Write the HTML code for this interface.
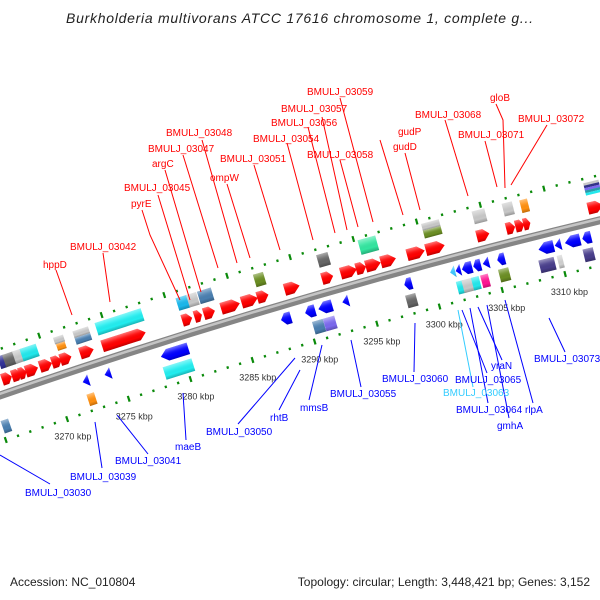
<!DOCTYPE html>
<html><head><meta charset="utf-8"><style>
html,body{margin:0;padding:0;background:#fff}
svg{display:block}
text{font-family:"Liberation Sans",sans-serif}
</style></head><body>
<svg id="chart" width="600" height="600" viewBox="0 0 600 600" xmlns="http://www.w3.org/2000/svg">
<defs>
<linearGradient id="shade" x1="0" y1="0" x2="0" y2="1">
<stop offset="0" stop-color="#fff" stop-opacity="0.45"/>
<stop offset="0.35" stop-color="#fff" stop-opacity="0.1"/>
<stop offset="0.7" stop-color="#000" stop-opacity="0"/>
<stop offset="1" stop-color="#000" stop-opacity="0.25"/>
</linearGradient>
</defs>
<rect width="600" height="600" fill="#fff"/>
<text x="66" y="23" font-size="14" font-style="italic" fill="#222" textLength="467">Burkholderia multivorans ATCC 17616 chromosome 1, complete g...</text>
<g id="backbone-layer"></g>
<g id="tick-layer"></g>
<g id="feature-layer"></g>
<g id="label-lines" stroke-width="1" fill="none">
<g stroke="#f00">
<polyline points="142,210 150,235 180,300"/>
<polyline points="158,195 190,300"/>
<polyline points="165,170 201,292"/>
<polyline points="183,155 218,268"/>
<polyline points="202,140 237,263"/>
<polyline points="227,184 250,258"/>
<polyline points="254,165 280,250"/>
<polyline points="287,143 313,240"/>
<polyline points="308,127 335,233"/>
<polyline points="322,117 347,230"/>
<polyline points="340,98 373,222"/>
<polyline points="340,160 358,227"/>
<polyline points="380,140 403,215"/>
<polyline points="405,153 420,210"/>
<polyline points="445,120 468,196"/>
<polyline points="496,104 503,120 505,188"/>
<polyline points="485,141 497,187"/>
<polyline points="547,125 511,185"/>
<polyline points="103,253 110,302"/>
<polyline points="56,270 72,315"/>
</g>
<g stroke="#00f">
<polyline points="0,455 50,484"/>
<polyline points="95,422 102,468"/>
<polyline points="117,415 148,454"/>
<polyline points="183,393 186,440"/>
<polyline points="295,358 238,424"/>
<polyline points="300,370 279,410"/>
<polyline points="322,345 309,400"/>
<polyline points="351,340 361,387"/>
<polyline points="415,323 414,372"/>
<polyline points="462,310 487,373"/>
<polyline points="478,307 502,360"/>
<polyline points="470,308 488,403"/>
<polyline points="487,305 509,418"/>
<polyline points="505,300 533,403"/>
<polyline points="549,318 565,352"/>
</g>
<polyline stroke="#33ccff" points="458,310 473,387"/>
</g>
<g font-size="10" fill="#f00">
<text x="307" y="95">BMULJ_03059</text>
<text x="281" y="112">BMULJ_03057</text>
<text x="490" y="101">gloB</text>
<text x="415" y="118">BMULJ_03068</text>
<text x="271" y="126">BMULJ_03056</text>
<text x="518" y="122">BMULJ_03072</text>
<text x="458" y="138">BMULJ_03071</text>
<text x="166" y="136">BMULJ_03048</text>
<text x="253" y="142">BMULJ_03054</text>
<text x="398" y="135">gudP</text>
<text x="148" y="152">BMULJ_03047</text>
<text x="393" y="150">gudD</text>
<text x="307" y="158">BMULJ_03058</text>
<text x="220" y="162">BMULJ_03051</text>
<text x="152" y="167">argC</text>
<text x="210" y="181">ompW</text>
<text x="124" y="191">BMULJ_03045</text>
<text x="131" y="207">pyrE</text>
<text x="70" y="250">BMULJ_03042</text>
<text x="43" y="268">hppD</text>
</g>
<g font-size="10" fill="#00f">
<text x="25" y="496">BMULJ_03030</text>
<text x="70" y="480">BMULJ_03039</text>
<text x="115" y="464">BMULJ_03041</text>
<text x="175" y="450">maeB</text>
<text x="206" y="435">BMULJ_03050</text>
<text x="270" y="421">rhtB</text>
<text x="300" y="411">mmsB</text>
<text x="330" y="397">BMULJ_03055</text>
<text x="382" y="382">BMULJ_03060</text>
<text x="455" y="383">BMULJ_03065</text>
<text x="491" y="369">yraN</text>
<text x="456" y="413">BMULJ_03064</text>
<text x="497" y="429">gmhA</text>
<text x="525" y="413">rlpA</text>
<text x="534" y="362">BMULJ_03073</text>
</g>
<text x="443" y="396" font-size="10" fill="#33ccff">BMULJ_03063</text>
<text x="10" y="586" font-size="12" fill="#222">Accession: NC_010804</text>
<text x="590" y="586" font-size="12" fill="#222" text-anchor="end">Topology: circular; Length: 3,448,421 bp; Genes: 3,152</text>
</svg>
<script>
// axis data
const tickKbp = [3264,3265,3266,3267,3268,3269,3270,3271,3272,3273,3274,3275,3276,3277,3278,3279,3280,3281,3282,3283,3284,3285,3286,3287,3288,3289,3290,3291,3292,3293,3294,3295,3296,3297,3298,3299,3300,3301,3302,3303,3304,3305,3306,3307,3308,3309,3310,3311,3312,3313,3314,3315,3316];
const labelKbp = [3270,3275,3280,3285,3290,3295,3300,3305,3310];
const labelText = ["3270 kbp","3275 kbp","3280 kbp","3285 kbp","3290 kbp","3295 kbp","3300 kbp","3305 kbp","3310 kbp"];
// feature data: center (kbp), length (kbp), lane offset, strand
const featCenter = [3266.63,3267.43,3267.9,3268.64,3269.77,3270.65,3271.38,3273.07,3276.05,3281.12,3282.0,3282.89,3284.58,3286.11,3287.16,3289.49,3292.31,3294.0,3294.97,3295.94,3297.14,3299.32,3300.85,3304.63,3306.81,3307.53,3308.09,3313.49,
3266.7,3267.3,3268.0,3268.9,3271.34,3271.35,3273.12,3273.12,3276.14,3281.19,3281.98,3283.0,3287.3,3292.39,3295.98,3300.97,3300.97,3304.73,3306.99,3308.26,3313.59,3313.59,3313.59,3313.59,3313.59,
3272.28,3274.05,3279.44,3288.38,3290.31,3291.52,3293.13,3298.12,3301.66,3302.1,3302.8,3303.6,3304.3,3305.5,3309.07,3310.0,3311.16,3312.28,
3265.4,3272.3,3279.38,3290.65,3291.54,3298.06,3302.0,3302.64,3303.2,3303.93,3305.47,3308.85,3309.9,3312.15];
const featLength = [0.8,0.8,0.6,1.0,1.0,0.8,0.9,1.1,3.5,0.8,0.6,0.9,1.5,1.3,0.9,1.2,0.9,1.3,0.8,1.2,1.2,1.4,1.5,1.0,0.7,0.7,0.55,1.2,
0.5,0.9,0.7,1.3,0.8,0.7,1.25,1.25,3.7,0.9,0.8,1.1,0.8,0.9,1.4,1.4,1.4,1.0,0.8,0.6,1.2,1.2,1.2,1.2,1.2,
0.5,0.5,2.2,0.8,0.8,1.1,0.5,0.6,0.4,0.4,0.8,0.6,0.5,0.6,1.2,0.5,1.2,0.7,
0.6,0.6,2.3,0.85,0.9,0.8,0.6,1.0,0.6,0.6,0.8,1.2,0.4,0.8];
const featLane = [14,14,14,14,14,14,14,14,14,14,14,14,14,14,14,14,14,14,14,14,14,14,14,14,14,14,14,14,
31,31,31,31,34,27,34,27,32,31,31,31,31,32,34,37,29.5,33,33,32,38.5,36,33.5,31,28.5,
-14,-14,-14,-14,-14,-14,-14,-14,-14,-14,-14,-14,-14,-14,-14,-14,-14,-14,
-31,-33,-31,-31,-31,-31,-31,-31,-31,-31,-30,-31,-31,-31];
const featStrand = [1,1,1,1,1,1,1,1,1,1,1,1,1,1,1,1,1,1,1,1,1,1,1,1,1,1,1,1,
0,0,0,0,0,0,0,0,0,0,0,0,0,0,0,0,0,0,0,0,0,0,0,0,0,
-1,-1,-1,-1,-1,-1,-1,-1,-1,-1,-1,-1,-1,-1,-1,-1,-1,-1,
0,0,0,0,0,0,0,0,0,0,0,0,0,0];
const featColor = ["#f00","#f00","#f00","#f00","#f00","#f00","#f00","#f00","#f00","#f00","#f00","#f00","#f00","#f00","#f00","#f00","#f00","#f00","#f00","#f00","#f00","#f00","#f00","#f00","#f00","#f00","#f00","#f00",
"#333399","#666666","#c8c8c8","#22e8ec","#c8c8c8","#ff9010","#c8c8c8","#4a7fb0","#22eef0","#1ab8ec","#c8c8c8","#4a7fb0","#6b8e23","#666666","#33e6a0","#c8c8c8","#6b8e23","#c8c8c8","#c8c8c8","#ff9010","#c8c8c8","#333388","#7b68ee","#2a9aa8","#22e8ec",
"#00f","#00f","#00f","#00f","#00f","#00f","#00f","#00f","#40c8ff","#00f","#00f","#00f","#00f","#00f","#00f","#00f","#00f","#00f",
"#4a7fb0","#ff9010","#22eef0","#4a7fb0","#7b68ee","#666666","#22e8ec","#c8c8c8","#22e8ec","#ff1493","#6b8e23","#483d8b","#d0d0d0","#483d8b"];
const featHeight = [12,12,12,12,12,12,12,12,12,12,12,12,12,12,12,12,12,12,12,12,12,12,12,12,12,12,12,12,
13,13,13,13,7,7,7,7,13,13,13,13,13,13,15,7,8,13,13,13,2.6,2.6,2.6,2.6,2.6,
12,12,12,12,12,12,12,12,12,12,12,12,12,12,12,12,12,12,
13,12,13,13,13,13,13,13,13,13,13,13,13,13];

const NS = "http://www.w3.org/2000/svg";
const CX = 2120, CY = 6540, R = 6500, T0 = -1.8743, DT = 0.002009;
function tAt(k){ return T0 + (k - 3280) * DT; }
function pos(k, off){ const t = tAt(k), r = R + off; return [CX + r*Math.cos(t), CY + r*Math.sin(t), (t + Math.PI/2) * 180 / Math.PI]; }
function pxLen(kb){ return kb * DT * R; }
function mk(tag, attrs, parent){ const e = document.createElementNS(NS, tag); for (const a in attrs) e.setAttribute(a, attrs[a]); parent.appendChild(e); return e; }

// backbone
const bb = document.getElementById('backbone-layer');
const ta = tAt(3262), tb = tAt(3318);
function arcPath(off){ const r = R + off; return "M" + (CX + r*Math.cos(ta)) + "," + (CY + r*Math.sin(ta)) + " A" + r + "," + r + " 0 0 1 " + (CX + r*Math.cos(tb)) + "," + (CY + r*Math.sin(tb)); }
const bbMain = mk('path', {d: arcPath(0), stroke: "#858585", "stroke-width": 8, fill: "none"}, bb);


const bbHi = mk('path', {d: arcPath(1.5), stroke: "#c4c4c4", "stroke-width": 2.5, fill: "none"}, bb);



// ticks
const tl = document.getElementById('tick-layer');
[44, -44].forEach(function(off){
  tickKbp.forEach(function(k){
    const major = (k % 5 === 0);
    const len = major ? 6 : 2.5;
    const t = tAt(k), c = Math.cos(t), s = Math.sin(t);
    const r1 = R + off - len/2, r2 = R + off + len/2;
    const ln = mk('line', {x1: CX + r1*c, y1: CY + r1*s, x2: CX + r2*c, y2: CY + r2*s, stroke: "#0a8a0a", "stroke-width": 2.2}, tl);
    
    
  });
});
labelKbp.forEach(function(k, i){
  const p = pos(k, -62);
  const tx = mk('text', {x: p[0], y: p[1] + 3.5, "font-size": 9, fill: "#333", "text-anchor": "middle"}, tl);
  tx.textContent = labelText[i];
  
  
});

// features
const fl = document.getElementById('feature-layer');
featCenter.forEach(function(k, i){
  const p = pos(k, featLane[i]);
  const L = pxLen(featLength[i]), h = featHeight[i], d = featStrand[i];
  const g = mk('g', {transform: "translate(" + p[0].toFixed(2) + "," + p[1].toFixed(2) + ") rotate(" + p[2].toFixed(2) + ")"}, fl);
  
  
  let pts;
  const a = -L/2, b = L/2, hh = h/2;
  if (d === 0) {
    pts = [[a,-hh],[b,-hh],[b,hh],[a,hh]];
  } else {
    const tip = Math.min(L * 0.45, 7);
    if (L < 7) { pts = d === 1 ? [[a,-hh],[b,0],[a,hh]] : [[b,-hh],[a,0],[b,hh]]; }
    else if (d === 1) pts = [[a,-hh],[b-tip,-hh],[b,0],[b-tip,hh],[a,hh]];
    else pts = [[b,-hh],[a+tip,-hh],[a,0],[a+tip,hh],[b,hh]];
  }
  const ps = pts.map(function(q){ return q[0].toFixed(2) + "," + q[1].toFixed(2); }).join(" ");
  mk('polygon', {points: ps, fill: featColor[i]}, g);
  if (h > 4) mk('polygon', {points: ps, fill: "url(#shade)"}, g);
});
</script>
</body></html>
